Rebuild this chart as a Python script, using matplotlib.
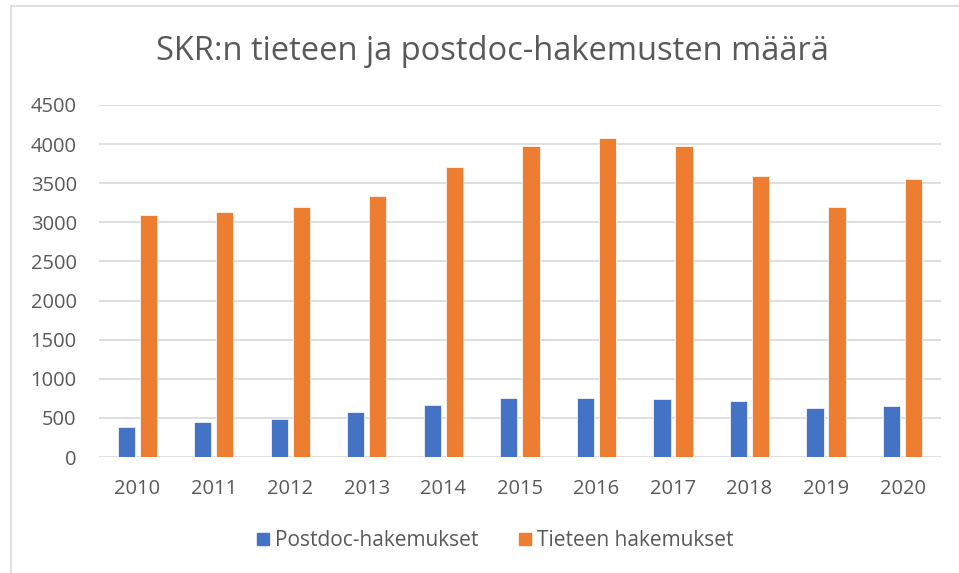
import numpy as np
import matplotlib.pyplot as plt
from matplotlib.lines import Line2D

vuodet = ['2010', '2011', '2012', '2013', '2014', '2015', '2016', '2017', '2018', '2019', '2020']
postdoc = [385, 450, 490, 580, 665, 755, 755, 737, 715, 622, 647]
tiede = [3100, 3130, 3200, 3340, 3710, 3980, 4080, 3980, 3590, 3200, 3560]

sininen = '#4472C4'
oranssi = '#ED7D31'
harmaa = '#595959'

plt.rcParams['font.family'] = ['Open Sans', 'DejaVu Sans']

fig = plt.figure(figsize=(9.59, 5.73), dpi=100)
ax = fig.add_axes([0.1032, 0.2024, 0.8778, 0.6144])

x = np.arange(len(vuodet))
leveys = 0.225
ax.bar(x - 0.144, postdoc, leveys, color=sininen, edgecolor='white', linewidth=0.5,
       label='Postdoc-hakemukset', zorder=3)
ax.bar(x + 0.144, tiede, leveys, color=oranssi, edgecolor='white', linewidth=0.5,
       label='Tieteen hakemukset', zorder=3)

ax.set_xlim(-0.5, len(vuodet) - 0.5)
ax.set_ylim(0, 4500)
ax.set_yticks(np.arange(0, 4501, 500))
ax.set_xticks(x)
ax.set_xticklabels(vuodet)
ax.yaxis.grid(True, color='#D9D9D9', linewidth=1.2, zorder=0)
for s in ax.spines.values():
    s.set_visible(False)
ax.tick_params(axis='both', length=0, labelsize=14.5, labelcolor=harmaa)
ax.tick_params(axis='y', pad=16)
ax.tick_params(axis='x', pad=16)

fig.text(0.513, 0.91, 'SKR:n tieteen ja postdoc-hakemusten määrä', ha='center', va='center',
         fontsize=23.5, color=harmaa)

kahvat = [Line2D([], [], marker='s', linestyle='none', markersize=8, color=sininen),
          Line2D([], [], marker='s', linestyle='none', markersize=8, color=oranssi)]
fig.legend(kahvat, ['Postdoc-hakemukset', 'Tieteen hakemukset'], loc='center',
           bbox_to_anchor=(0.513, 0.056), ncol=2, frameon=False, fontsize=15,
           labelcolor=harmaa, handletextpad=0.0, columnspacing=1.6, handlelength=1.2)

# kehys vasemmalla ja ylhäällä
fig.add_artist(Line2D([11 / 959, 11 / 959], [0, 1 - 6 / 573], color='#D9D9D9', linewidth=1.2,
                      transform=fig.transFigure))
fig.add_artist(Line2D([11 / 959, 1], [1 - 6 / 573, 1 - 6 / 573], color='#D9D9D9', linewidth=1.2,
                      transform=fig.transFigure))

fig.savefig('out.png', dpi=100)
